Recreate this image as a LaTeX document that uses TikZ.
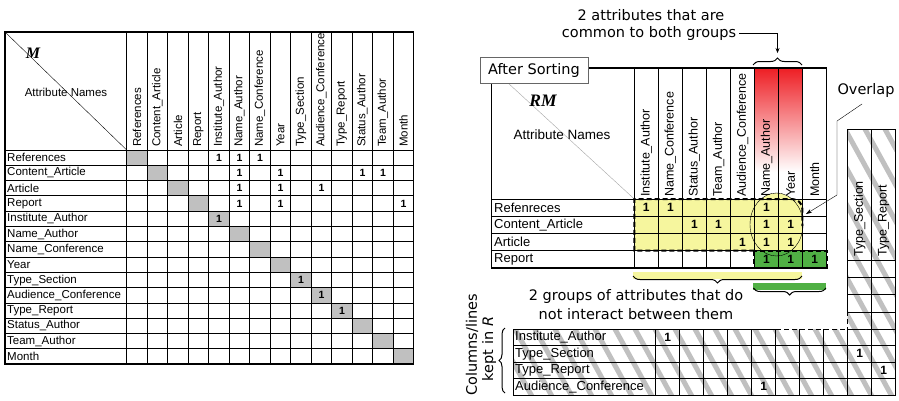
\documentclass[tikz,border=0pt]{standalone}
\usepackage{fontspec}
\setmainfont{Liberation Sans}
\newfontfamily\verdana{DejaVu Sans}
\newfontfamily\timesfont{Liberation Serif}
\usepackage{tikz}
\usetikzlibrary{decorations.pathreplacing, arrows.meta, calc}

\definecolor{grpyellow}{RGB}{246,246,158}
\definecolor{grpgreen}{RGB}{80,176,68}
\definecolor{commonred}{RGB}{238,30,36}
\definecolor{cellgray}{RGB}{192,192,192}
\definecolor{hatchgray}{RGB}{192,192,192}

\tikzset{
  tabline/.style={line width=1pt},
  lbl/.style={anchor=west, inner sep=0pt, font=\fontsize{11.5}{13}\selectfont},
  colhead/.style={rotate=90, anchor=west, inner sep=0pt, font=\fontsize{11.5}{13}\selectfont},
  one/.style={inner sep=0pt, font=\fontsize{10.5}{11}\selectfont\bfseries},
  rlbl/.style={anchor=west, inner sep=0pt, font=\fontsize{13}{15}\selectfont},
  rcolhead/.style={rotate=90, anchor=west, inner sep=0pt, font=\fontsize{12.5}{14}\selectfont},
  rone/.style={inner sep=0pt, font=\fontsize{12}{13}\selectfont\bfseries},
  groupline/.style={line width=2pt, dash pattern=on 5pt off 3pt},
  note/.style={inner sep=0pt, align=center, font=\verdana\fontsize{14.5}{18}\selectfont},
  hatch/.style={hatchgray, line width=5pt},
  matname/.style={inner sep=0pt, font=\timesfont\bfseries\itshape\fontsize{16}{18}\selectfont},
  brace/.style={decorate, decoration={brace, amplitude=7pt}, line width=1pt},
}

\begin{document}
\begin{tikzpicture}[x=1pt, y=-1pt]
  \useasboundingbox (0,0) rectangle (899,400);
  \fill[white] (0,0) rectangle (899,400);

  % M matrix, before sorting
  \foreach \i in {0,...,13}
    \fill[cellgray] ({126.7+\i*20.5},{150+\i*15.3}) rectangle ++(20.5,15.3);
  \foreach \i in {0,...,14}
    \draw[tabline] ({126.7+\i*20.5},32) -- ({126.7+\i*20.5},364.2);
  \foreach \j in {0,...,14}
    \draw[tabline] (5,{150+\j*15.3}) -- (413.7,{150+\j*15.3});
  \draw[line width=1.5pt] (5,32) rectangle (413.7,364.2);
  \draw[thin] (5,32) -- (126.7,150);

  \node[matname] (mname) at (33,53) {M};
  \node[font=\fontsize{11.5}{13}\selectfont, inner sep=0pt] (mattr) at (66,92) {Attribute Names};

  \foreach \lab [count=\i from 0] in {References, Content\_Article, Article, Report, Institute\_Author, Name\_Author, Name\_Conference, Year, Type\_Section, Audience\_Conference, Type\_Report, Status\_Author, Team\_Author, Month} {
    \node[lbl] (mrow\i) at (7,{150+(\i+0.5)*15.3}) {\lab};
    \node[colhead] (mcol\i) at ({126.7+(\i+0.5)*20.5},147) {\lab};
  }
  \foreach \r/\c in {1/5,1/6,1/7,2/6,2/8,2/12,2/13,3/6,3/8,3/10,4/6,4/8,4/14,5/5,9/9,10/10,11/11}
    \node[one] (m\r-\c) at ({126.7+(\c-0.5)*20.5},{150+(\r-0.5)*15.3}) {1};

  % RM matrix, after sorting
  \fill[grpyellow] (634.3,199) rectangle (802.4,250.7);
  \fill[grpyellow] (776.5,224.5) ellipse [x radius=26.5, y radius=31.5];
  \fill[grpgreen] (754.4,250.7) rectangle (826.7,267.9);
  \shade[top color=commonred, bottom color=white] (754.4,68) rectangle (802.4,172);
  \draw[black!35, thin] (491.7,68) -- (634.3,199);
  \foreach \i in {0,...,8}
    \draw[tabline] ({634.3+\i*24.05},68) -- ({634.3+\i*24.05},267.9);
  \foreach \j in {0,...,4}
    \draw[tabline] (491.7,{199+\j*17.2}) -- (826.7,{199+\j*17.2});
  \draw[line width=1.3pt] (491.7,68) rectangle (826.7,267.9);

  \draw[groupline] (754.4,250.7) -- (634.3,250.7) -- (634.3,199) -- (792,199)
    to[out=0, in=90] (802.4,209) -- (802.4,226);
  \draw[groupline] (754.4,250.7) rectangle (826.7,267.9);
  \draw[thin] (776.5,224.5) ellipse [x radius=26.5, y radius=31.5];

  \node[draw=black!60, fill=white, inner sep=0pt, minimum width=108pt, minimum height=26pt,
    font=\verdana\fontsize{14.5}{16}\selectfont] (sorting) at (534,70) {After Sorting};
  \node[matname, font=\timesfont\bfseries\itshape\fontsize{17.5}{19}\selectfont] (rmname) at (543,101) {RM};
  \node[font=\fontsize{13.5}{15}\selectfont, inner sep=0pt] (rmattr) at (562,135) {Attribute Names};

  \foreach \lab [count=\i from 0] in {Refenreces, Content\_Article, Article, Report}
    \node[rlbl] (rrow\i) at (494,{199+(\i+0.5)*17.2}) {\lab};
  \foreach \lab [count=\i from 0] in {Institute\_Author, Name\_Conference, Status\_Author, Team\_Author, Audience\_Conference, Name\_Author, Year, Month}
    \node[rcolhead] (rcol\i) at ({634.3+(\i+0.5)*24.05},197) {\lab};
  \foreach \r/\c in {1/1,1/2,1/6,2/3,2/4,2/6,2/7,3/5,3/6,3/7,4/6,4/7,4/8}
    \node[rone] (r\r-\c) at ({634.3+(\c-0.5)*24.05},{199+(\r-0.5)*17.2}) {1};

  % common attributes
  \node[note] (commontop) at (651,15) {2 attributes that are};
  \node[note] (common) at (649,33) {common to both groups};
  \coordinate (redtip) at (777.5,53);
  \draw[brace] (753,65) -- (802,65);
  \draw[thin, -{Stealth[length=5pt, width=4pt]}] (common.east) ++(3,0) -| (redtip);

  % overlap
  \node[note] (overlap) at (866,90) {Overlap};
  \draw[thin, -{Stealth[length=6pt, width=4pt]}] (862,104) -- (837,121) -- (837,195) -- (806,214);

  % groups
  \fill[grpyellow] (633,271.5) rectangle (802,278.5);
  \draw[brace, decoration={mirror}] (633,276) -- (802,276);
  \fill[grpgreen] (753.3,283.3) rectangle (826,290);
  \draw[brace, decoration={mirror}] (753.3,288) -- (826,288);
  \node[note] (groupstop) at (636,296) {2 groups of attributes that do};
  \node[note] (groups) at (636,314) {not interact between them};

  % rows and columns kept in R
  \begin{scope}
    \clip (513.3,329) rectangle (895.7,395) (847.7,129) rectangle (895.7,329);
    \foreach \s in {340,360,...,900}
      \draw[hatch] (\s,120) -- ++(154,280);
  \end{scope}
  \foreach \i in {0,...,10}
    \draw[tabline] ({655.7+\i*24},329) -- ({655.7+\i*24},395);
  \draw[tabline] (513.3,329) -- (513.3,395);
  \foreach \j in {1,...,4}
    \draw[tabline] (513.3,{329+\j*16.5}) -- (895.7,{329+\j*16.5});
  \draw[tabline] (513.3,329) -- (776,329);
  \draw[tabline, dash pattern=on 5pt off 3pt] (776,329) -- (847.7,329);
  \draw[tabline] (847.7,329) -- (895.7,329);
  \draw[tabline] (847.7,129) -- (847.7,311);
  \draw[tabline, dash pattern=on 5pt off 3pt] (847.7,311) -- (847.7,329);
  \draw[tabline] (871.7,129) -- (871.7,329);
  \draw[tabline] (895.7,129) -- (895.7,329);
  \draw[tabline] (847.7,129) -- (895.7,129);
  \foreach \j in {0,...,3}
    \draw[tabline] (847.7,{260.7+\j*17.1}) -- (895.7,{260.7+\j*17.1});

  \foreach \lab [count=\i from 0] in {Institute\_Author, Type\_Section, Type\_Report, Audience\_Conference}
    \node[rlbl] (krow\i) at (515,{329+(\i+0.5)*16.5}) {\lab};
  \node[rcolhead] (kcol0) at (859.7,257) {Type\_Section};
  \node[rcolhead] (kcol1) at (883.7,257) {Type\_Report};
  \foreach \r/\c in {1/1,2/9,3/10,4/5}
    \node[rone] (k\r-\c) at ({655.7+(\c-0.5)*24},{329+(\r-0.5)*16.5}) {1};

  \node[note, rotate=90] (kepta) at (472,345) {Columns/lines};
  \node[note, rotate=90] (keptb) at (489,349) {kept in \textit{R}};
  \draw[brace, decoration={amplitude=6pt}] (505,393) -- (505,328);
\end{tikzpicture}
\end{document}
